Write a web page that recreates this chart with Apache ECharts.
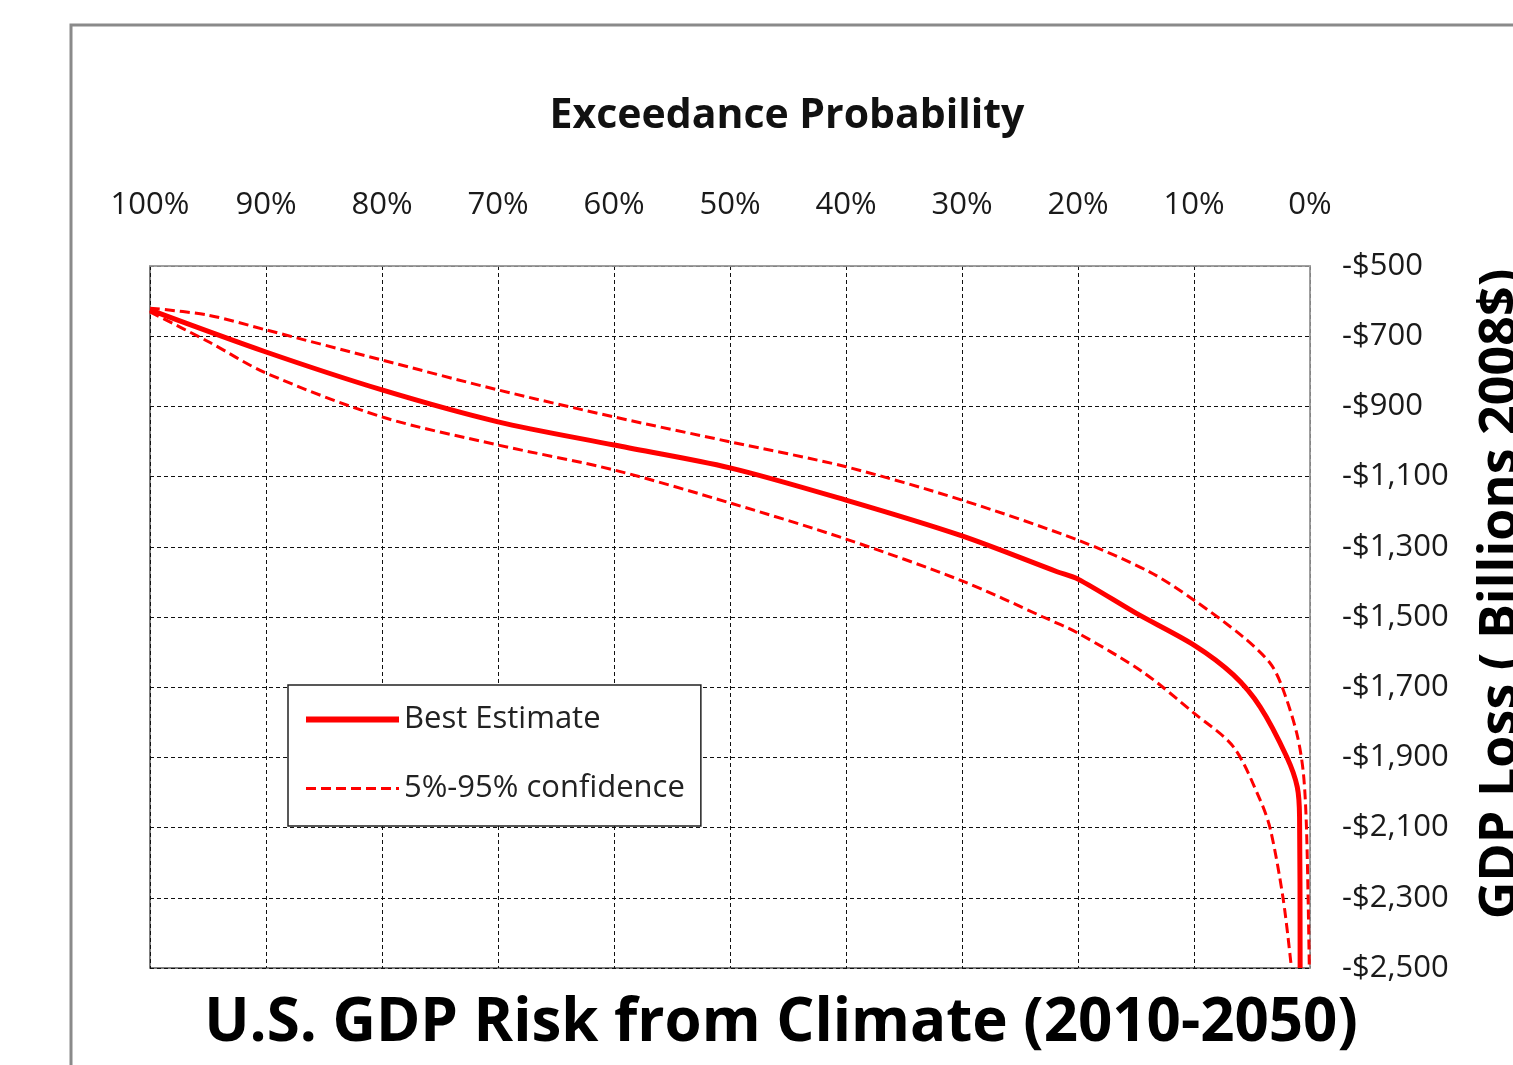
<!DOCTYPE html>
<html>
<head>
<meta charset="utf-8">
<title>U.S. GDP Risk from Climate (2010-2050)</title>
<script src="https://cdn.jsdelivr.net/npm/echarts@6/dist/echarts.min.js"></script>
<style>
  html, body { margin: 0; padding: 0; background: #fff; }
  #chart { width: 1513px; height: 1065px; }
</style>
</head>
<body>
<div id="chart"></div>
<script>
// exceedance probability (%) and GDP loss (billions 2008$) for each curve
const bestProb = [100, 90, 80, 70, 60, 50, 40, 30, 21.8, 20, 15, 10, 6.6, 4.3, 2.0, 1.1, 0.9, 0.85];
const bestLoss = [-625, -745, -853, -944, -1010, -1075, -1167, -1269, -1371, -1392, -1489, -1580, -1665, -1756, -1899, -1984, -2070, -2500];

const upperProb = [100, 95, 90, 80, 70, 60, 50, 40, 30, 20, 13.8, 10, 5.75, 3.45, 2.45, 1.15, 0.57, 0.29, 0.06];
const upperLoss = [-620, -640, -682, -768, -853, -930, -1001, -1072, -1167, -1281, -1372, -1452, -1557, -1631, -1695, -1830, -1945, -2115, -2500];

const lowerProb = [100, 95, 90, 80, 70, 60, 50, 40, 30, 23, 20, 14.4, 10, 6.6, 4.3, 3.4, 2.3, 1.6];
const lowerLoss = [-631, -715, -805, -930, -1010, -1081, -1175, -1278, -1397, -1500, -1546, -1657, -1774, -1870, -2021, -2107, -2306, -2500];

const bestName = 'Best Estimate';
const bandName = '5%-95% confidence';

const pairs = (xs, ys) => xs.map((x, i) => [x, ys[i]]);

const chart = echarts.init(document.getElementById('chart'));

const font = "'Open Sans', 'Noto Sans', sans-serif";
const red = '#ff0000';
const gridLine = { type: [4, 3], color: '#111', width: 1 };

const option = {
  animation: false,
  backgroundColor: '#fff',
  textStyle: { fontFamily: font },
  title: [
    {
      text: 'Exceedance Probability',
      left: 787,
      top: 96,
      textAlign: 'center',
      padding: 0,
      textStyle: { fontFamily: font, fontSize: 41, fontWeight: 'bold', color: '#111' },
    },
    {
      text: 'U.S. GDP Risk from Climate (2010-2050)',
      left: 781,
      top: 994,
      textAlign: 'center',
      padding: 0,
      textStyle: { fontFamily: font, fontSize: 60, fontWeight: 'bold', color: '#000' },
    },
  ],
  graphic: [
    {
      type: 'rect',
      shape: { x: 71, y: 25, width: 1600, height: 1200 },
      style: { fill: null, stroke: '#8a8a8a', lineWidth: 3 },
      silent: true,
    },
  ],
  legend: {
    data: [
      { name: bestName, lineStyle: { width: 6 } },
      { name: bandName, lineStyle: { width: 3 } },
    ],
    orient: 'vertical',
    left: 288,
    top: 685,
    padding: [19, 16, 22, 15],
    itemWidth: 93,
    itemHeight: 30,
    itemGap: 38,
    itemStyle: { color: 'rgba(0,0,0,0)', borderWidth: 0, opacity: 0 },
    backgroundColor: '#fff',
    borderColor: '#222',
    borderWidth: 1.5,
    borderRadius: 0,
    textStyle: { fontFamily: font, fontSize: 31, color: '#222' },
  },
  grid: {
    left: 150,
    right: 203,
    top: 266,
    bottom: 97,
    containLabel: false,
    outerBoundsMode: 'none',
    show: true,
    borderColor: '#555',
    borderWidth: 1.5,
    backgroundColor: 'transparent',
  },
  xAxis: {
    type: 'value',
    position: 'top',
    inverse: true,
    min: 0,
    max: 100,
    interval: 10,
    axisLine: { show: true, lineStyle: { color: '#aaa', width: 1.5 } },
    axisTick: { show: false },
    axisLabel: {
      formatter: '{value}%',
      fontFamily: font,
      fontSize: 31,
      color: '#1a1a1a',
      margin: 45,
    },
    splitLine: { show: true, lineStyle: gridLine },
  },
  yAxis: {
    type: 'value',
    position: 'right',
    min: -2500,
    max: -500,
    interval: 200,
    name: 'GDP Loss ( Billions 2008$)',
    nameLocation: 'middle',
    nameRotate: 90,
    nameGap: 165,
    nameTextStyle: {
      fontFamily: font,
      fontSize: 52,
      fontWeight: 'bold',
      color: '#000',
      padding: [0, 0, 0, 46],
    },
    axisLine: { show: true, lineStyle: { color: '#aaa', width: 1.5 } },
    axisTick: { show: false },
    axisLabel: {
      formatter: (v) => '-$' + Math.abs(v).toLocaleString('en-US'),
      fontFamily: font,
      fontSize: 31,
      color: '#1a1a1a',
      margin: 32,
    },
    splitLine: { show: true, lineStyle: gridLine },
  },
  series: [
    {
      name: bandName,
      type: 'line',
      data: pairs(upperProb, upperLoss),
      symbol: 'none',
      smooth: 0.3,
      lineStyle: { color: red, width: 3, type: [10, 5] },
      itemStyle: { color: red },
    },
    {
      name: bandName,
      type: 'line',
      data: pairs(lowerProb, lowerLoss),
      symbol: 'none',
      smooth: 0.3,
      lineStyle: { color: red, width: 3, type: [10, 5] },
      itemStyle: { color: red },
    },
    {
      name: bestName,
      type: 'line',
      data: pairs(bestProb, bestLoss),
      symbol: 'none',
      smooth: 0.3,
      lineStyle: { color: red, width: 5 },
      itemStyle: { color: red },
    },
  ],
};

chart.setOption(option);
</script>
</body>
</html>
